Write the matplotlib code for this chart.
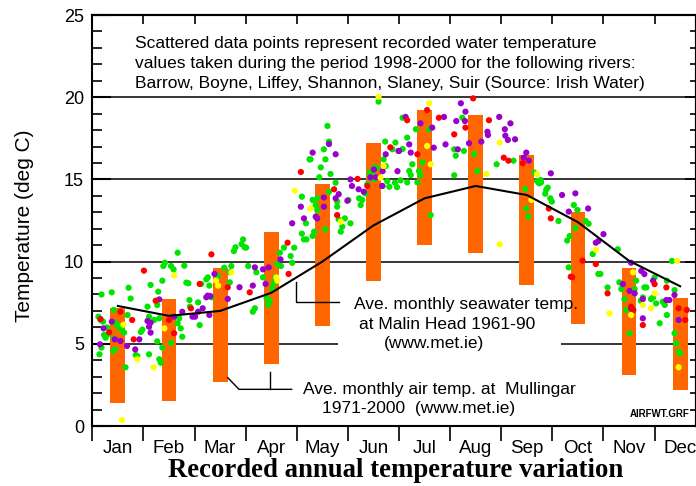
import numpy as np
import matplotlib.pyplot as plt
import matplotlib

matplotlib.rcParams['font.family'] = 'Liberation Sans'
matplotlib.rcParams['axes.linewidth'] = 1.5

months = ['Jan', 'Feb', 'Mar', 'Apr', 'May', 'Jun',
          'Jul', 'Aug', 'Sep', 'Oct', 'Nov', 'Dec']

# ave. monthly air temp at Mullingar (min / max), deg C
air_min = [1.4, 1.5, 2.7, 3.8, 6.1, 8.8, 11.0, 10.5, 8.6, 6.2, 3.1, 2.2]
air_max = [7.2, 7.7, 9.6, 11.8, 14.7, 17.2, 19.2, 18.9, 16.5, 13.0, 9.6, 7.8]

# ave. monthly seawater temp at Malin Head
sea_temp = [7.3, 6.7, 7.0, 8.1, 10.0, 12.2, 13.85, 14.6, 14.05, 12.4, 10.05, 8.5]

# river water temperature readings: position in year (months) and temp
green_t = [0.18, 0.38, 0.12, 0.16, 0.21, 0.23, 0.26, 0.31, 0.14, 0.18, 0.42, 0.46,
           0.49, 0.52, 0.58, 0.62, 0.42, 0.44, 0.41, 0.65, 0.69, 0.71, 0.75, 0.29,
           1.67, 1.42, 1.39, 1.54, 1.59, 1.80, 1.14, 1.37, 1.29, 1.27, 1.08, 1.21,
           1.11, 1.31, 0.98, 0.95, 1.27, 1.37, 1.54, 0.85, 0.88, 1.11, 1.31, 1.34,
           1.84, 1.88, 1.90, 1.91, 1.67, 1.73, 1.76, 1.70,
           2.95, 2.92, 2.98, 3.01, 2.80, 2.77, 2.58, 2.72, 2.69, 2.26, 2.23, 2.46,
           2.13, 2.29, 2.69, 2.33, 2.07, 2.10, 3.05, 3.21, 3.34, 3.18, 3.14, 3.41,
           3.47, 3.44, 3.52, 3.55, 3.58, 3.62, 3.69, 3.67, 3.75, 3.95, 3.88, 3.91,
           4.60, 4.63, 4.53, 4.25, 4.27, 4.56, 4.47, 4.66, 4.44, 4.76, 4.63, 4.10,
           4.31, 4.40, 4.37, 4.40, 4.79, 4.79, 4.18, 4.34, 4.31, 4.10, 4.14, 4.19,
           4.56, 4.82, 4.89, 4.86, 4.94, 5.05, 5.01, 5.22, 5.28, 5.25, 5.34, 5.60,
           5.73, 5.93, 5.87, 5.70, 5.74, 5.42, 5.51, 5.57, 5.48, 5.44, 5.38, 5.51,
           5.68, 5.77, 5.81, 5.92, 5.96,
           6.07, 6.33, 6.59, 6.16, 6.07, 6.26, 6.46, 6.20, 6.23, 6.39, 6.42, 6.03,
           6.16, 6.36, 6.62, 7.08, 7.11, 7.27, 7.47, 7.24, 7.53, 7.08, 7.91,
           8.24, 8.65, 8.70, 8.74, 8.78, 8.77, 8.47, 8.91, 8.88, 8.86, 8.96, 8.99,
           8.49, 8.53, 9.12, 9.42, 9.49, 9.65, 9.71, 9.45, 9.34, 9.29, 9.79, 9.32,
           9.90, 9.94,
           10.28, 10.08, 10.31, 10.35, 10.64, 10.61, 10.80, 10.84, 11.00, 10.41,
           10.77, 10.73, 10.93, 10.97, 11.03, 11.16, 11.20, 10.44, 10.58, 11.24,
           11.10, 10.51, 11.34, 11.39, 11.24, 11.39, 11.42, 11.47, 11.50]
green_v = [8.0, 8.13, 6.65, 6.45, 6.35, 5.54, 5.37, 5.6, 4.36, 4.77, 7.06, 6.25,
           6.14, 6.0, 5.86, 5.68, 5.33, 4.66, 4.56, 3.57, 6.75, 8.41, 7.75, 6.0,
           10.54, 9.93, 9.73, 9.73, 9.53, 9.75, 8.58, 8.84, 8.17, 7.36, 7.26, 6.45,
           6.65, 6.55, 5.86, 5.72, 5.15, 4.77, 5.07, 4.32, 4.26, 4.36, 4.06, 3.85,
           8.72, 8.68, 7.66, 7.26, 6.25, 5.94, 5.43, 6.55,
           11.35, 11.07, 10.87, 10.85, 10.87, 10.64, 9.63, 9.73, 9.35, 9.04, 8.92, 9.12,
           8.64, 8.54, 8.74, 7.83, 7.52, 6.14, 9.73, 9.35, 9.04, 7.16, 6.95, 7.77,
           7.62, 7.36, 8.37, 8.68, 9.04, 9.85, 9.73, 10.54, 10.85, 10.85, 10.34, 9.93,
           18.25, 17.3, 16.83, 16.22, 16.22, 16.22, 15.73, 15.33, 15.13, 14.8, 14.25, 13.95,
           13.75, 13.85, 13.44, 13.14, 13.65, 13.34, 12.33, 11.82, 11.56, 11.7, 11.35, 11.35,
           11.96, 12.57, 12.12, 11.82, 12.63, 12.33, 13.75, 13.85, 13.75, 13.44, 14.15, 19.73,
           17.3, 17.24, 16.83, 16.22, 15.82, 15.41, 15.73, 15.7, 15.41, 15.13, 14.72, 15.0,
           14.6, 14.9, 14.55, 14.8, 14.53,
           18.75, 18.05, 18.05, 17.54, 16.85, 15.92, 16.03, 15.51, 15.27, 15.51, 15.25, 14.94,
           14.82, 14.82, 12.83, 16.83, 16.44, 16.73, 16.53, 18.75, 15.51, 15.25, 15.92,
           16.14, 15.41, 14.9, 14.76, 14.82, 14.96, 14.42, 14.5, 14.38, 14.13, 13.85, 13.65,
           13.23, 12.73, 12.47, 13.44, 13.14, 12.47, 12.3, 12.05, 11.56, 11.28, 10.46, 9.65,
           9.25, 9.25,
           10.75, 8.43, 8.74, 8.33, 8.84, 8.33, 8.43, 8.43, 9.04, 7.72,
           7.82, 7.62, 7.72, 7.82, 7.46, 7.56, 7.36, 7.06, 7.1, 6.75,
           6.25, 5.64, 10.04, 8.27, 8.84, 5.64, 5.03, 4.52, 4.42]

purple_t = [0.22, 0.15, 0.38, 0.44, 0.55, 0.68, 1.31, 1.08, 1.14, 1.11, 1.14, 0.92,
            0.84, 1.76, 1.60, 1.96,
            2.39, 2.26, 2.23, 2.31, 2.65, 2.16, 2.07, 2.01, 2.29, 2.88, 3.18, 3.34,
            3.45, 3.14, 3.39, 3.68, 3.91,
            4.31, 4.63, 4.76, 4.08, 4.14, 4.40, 4.37, 4.53, 4.53, 4.76, 4.82, 4.99,
            5.05, 5.08, 5.21, 5.31, 5.44, 5.55, 5.51, 5.68, 5.74, 5.97, 5.99, 5.67,
            6.13, 6.42, 6.65, 6.20, 6.23, 6.00, 6.68, 6.88, 6.91, 7.21, 7.30, 7.12,
            7.29, 7.73, 7.74, 7.15, 7.37, 7.61, 7.96,
            8.18, 8.07, 8.08, 8.13, 8.27, 8.49, 8.44, 8.54, 8.97, 9.19, 9.45, 9.32,
            9.70, 9.85, 9.90, 10.00,
            10.54, 10.74, 10.80, 10.38, 10.51, 10.61, 10.97, 10.77, 10.54, 10.58,
            10.77, 11.23, 11.29, 11.39, 11.47]
purple_v = [5.94, 4.97, 6.35, 5.27, 5.17, 4.87, 7.7, 6.39, 6.29, 6.04, 5.68, 5.27,
            4.66, 6.95, 6.65, 6.65,
            9.25, 7.93, 7.83, 7.9, 7.73, 7.16, 6.95, 6.65, 6.75, 8.44, 9.65, 9.53,
            9.65, 8.54, 8.64, 10.14, 12.33,
            16.63, 17.15, 16.53, 13.34, 12.63, 12.63, 12.73, 13.34, 13.9, 13.85, 14.1, 13.7,
            15.0, 14.6, 14.4, 14.25, 15.13, 15.13, 15.6, 15.5, 16.53, 15.5, 16.73, 14.6,
            18.8, 18.41, 18.15, 17.13, 16.63, 16.73, 16.93, 18.8, 17.13, 19.63, 19.12, 18.55,
            18.55, 17.9, 17.7, 16.83, 17.2, 17.3, 18.8,
            18.41, 18.05, 17.66, 17.4, 17.44, 16.63, 16.32, 16.14, 15.37, 14.05, 14.15, 13.04,
            13.23, 11.15, 11.25, 11.67,
            9.93, 9.43, 9.24, 8.63, 8.22, 8.07, 8.84, 7.72, 7.16, 7.06,
            6.55, 7.66, 7.66, 7.97, 6.45]

red_t = [0.16, 0.33, 0.55, 0.78, 0.81, 1.01, 1.24, 1.50, 1.60, 1.93,
         2.33, 2.10, 2.65, 3.08, 3.82, 3.84,
         4.08, 4.73, 4.79, 5.19, 5.38, 5.83,
         6.55, 6.16, 6.78, 6.36, 7.45, 7.30, 7.08, 7.76,
         8.05, 8.14, 8.42, 8.93, 8.97, 9.59, 9.36, 9.39, 9.85,
         10.08, 11.00, 11.23, 10.54, 10.58, 10.77, 11.47, 11.63, 11.60]
red_v = [6.5, 5.7, 6.95, 6.45, 5.27, 9.45, 7.62, 6.45, 5.64, 7.16,
         10.44, 8.64, 8.44, 8.13, 11.15, 9.25,
         15.45, 14.4, 12.83, 15.03, 14.6, 16.95,
         19.22, 18.6, 18.75, 16.53, 19.93, 18.15, 17.74, 18.6,
         16.32, 16.14, 15.98, 13.23, 12.63, 10.06, 9.08, 9.05, 9.85,
         8.07, 8.63, 8.43, 7.26, 7.02, 6.14, 7.16, 7.06, 6.45]

yellow_t = [0.61, 0.58, 1.60, 1.41, 0.88, 1.20,
            2.42, 2.46, 2.72, 3.60, 3.62, 3.96,
            5.60, 4.27, 4.86, 5.70, 5.64,
            6.59, 6.55, 6.62, 7.71, 7.97, 7.97,
            8.70, 8.59, 9.85,
            10.58, 11.00, 10.77, 10.93, 10.12, 10.54, 11.44, 11.47]
yellow_v = [6.16, 0.37, 9.16, 5.94, 4.06, 3.57,
            8.84, 8.54, 9.33, 9.04, 8.84, 14.31,
            20.03, 13.23, 12.43, 15.82, 15.1,
            19.63, 17.03, 15.92, 15.33, 17.24, 11.05,
            15.33, 13.75, 10.72,
            9.35, 8.07, 7.36, 7.16, 6.85, 6.75, 10.04, 3.57]

x_max = 11.81
centres = np.arange(12) + 0.5

fig = plt.figure(figsize=(6.96, 4.86), dpi=100)
ax = fig.add_axes([92.3 / 696, 60 / 486, (696 - 92.3) / 696, 411 / 486])
ax.set_xlim(0, x_max)
ax.set_ylim(0, 25)

# horizontal grid lines, the 5 deg one is broken behind the text
ax.hlines([10, 15, 20], 0, x_max, color='k', lw=1.1, zorder=1)
ax.hlines(5, 0, 4.81, color='k', lw=1.1, zorder=1)
ax.hlines(5, 9.17, x_max, color='k', lw=1.1, zorder=1)

lo = np.array(air_min)
hi = np.array(air_max)
ax.bar(centres, hi - lo, bottom=lo, width=0.29, color='#FF6600', zorder=2)

sz = 20
ax.scatter(green_t, green_v, s=sz, color='#00E400', edgecolors='none', zorder=3)
ax.scatter(purple_t, purple_v, s=sz, color='#9900CC', edgecolors='none', zorder=3)
ax.scatter(red_t, red_v, s=sz, color='#FF0000', edgecolors='none', zorder=3)
ax.scatter(yellow_t, yellow_v, s=sz, color='#FFFF00', edgecolors='none', zorder=3)

ax.plot(centres, sea_temp, color='k', lw=1.5, zorder=4)

# leader lines to the labels
ax.plot([3.98, 3.98, 4.83], [8.77, 7.56, 7.56], color='k', lw=1, zorder=4)
ax.plot([2.65, 2.87, 3.90], [2.94, 2.23, 2.23], color='k', lw=1, zorder=4)
ax.plot([3.48, 3.48], [3.30, 2.23], color='k', lw=1, zorder=4)

fs = 12.5
ax.text(0.84, 23.24, 'Scattered data points represent recorded water temperature',
        fontsize=fs, va='center')
ax.text(0.84, 22.02, 'values taken during the period 1998-2000 for the following rivers:',
        fontsize=fs, va='center')
ax.text(0.84, 20.86, 'Barrow, Boyne, Liffey, Shannon, Slaney, Suir (Source: Irish Water)',
        fontsize=fs, va='center')

ax.text(5.12, 7.42, 'Ave. monthly seawater temp.', fontsize=fs, va='center')
ax.text(5.22, 6.20, 'at Malin Head 1961-90', fontsize=fs, va='center')
ax.text(5.71, 4.99, '(www.met.ie)', fontsize=fs, va='center')

ax.text(4.12, 2.25, 'Ave. monthly air temp. at  Mullingar', fontsize=fs, va='center')
ax.text(4.50, 1.09, '1971-2000  (www.met.ie)', fontsize=fs, va='center')

ax.text(11.69, 0.73, 'AIRFWT.GRF', fontsize=7, weight='bold', ha='right', va='center')

# ticks
ax.set_xticks(np.arange(0, 12))
ax.set_xticklabels([])
ax.set_xticks(centres, minor=True)
ax.set_xticklabels(months, minor=True, fontsize=13.5)
ax.tick_params(axis='x', which='major', direction='out', length=10.5, width=1.2)
ax.tick_params(axis='x', which='minor', length=0, pad=10)

top = ax.secondary_xaxis('top')
top.set_xticks(np.arange(1, 12))
top.set_xticklabels([])
top.tick_params(direction='in', length=6.5, width=1.2)

ax.set_yticks(np.arange(0, 26, 5))
ax.set_yticks(np.arange(0, 26, 1), minor=True)
ax.tick_params(axis='y', which='major', direction='in', length=14, width=1.5,
               labelsize=13, pad=6)
ax.tick_params(axis='y', which='minor', direction='in', length=7, width=1.2)

right = ax.secondary_yaxis('right')
right.set_yticks(np.arange(0, 26, 5))
right.set_yticks(np.arange(0, 26, 1), minor=True)
right.set_yticklabels([])
right.tick_params(which='major', direction='in', length=8, width=1.2)
right.tick_params(which='minor', direction='in', length=4.5, width=1.2)

fig.text(25 / 696, 1 - 226 / 486, 'Temperature (deg C)', rotation=90,
         fontsize=15, ha='center', va='center')
fig.text(396 / 696, 1 - 470 / 486, 'Recorded annual temperature variation',
         fontfamily='Liberation Serif', weight='bold', fontsize=19.3,
         ha='center', va='center')

fig.savefig('out.png', dpi=100)
